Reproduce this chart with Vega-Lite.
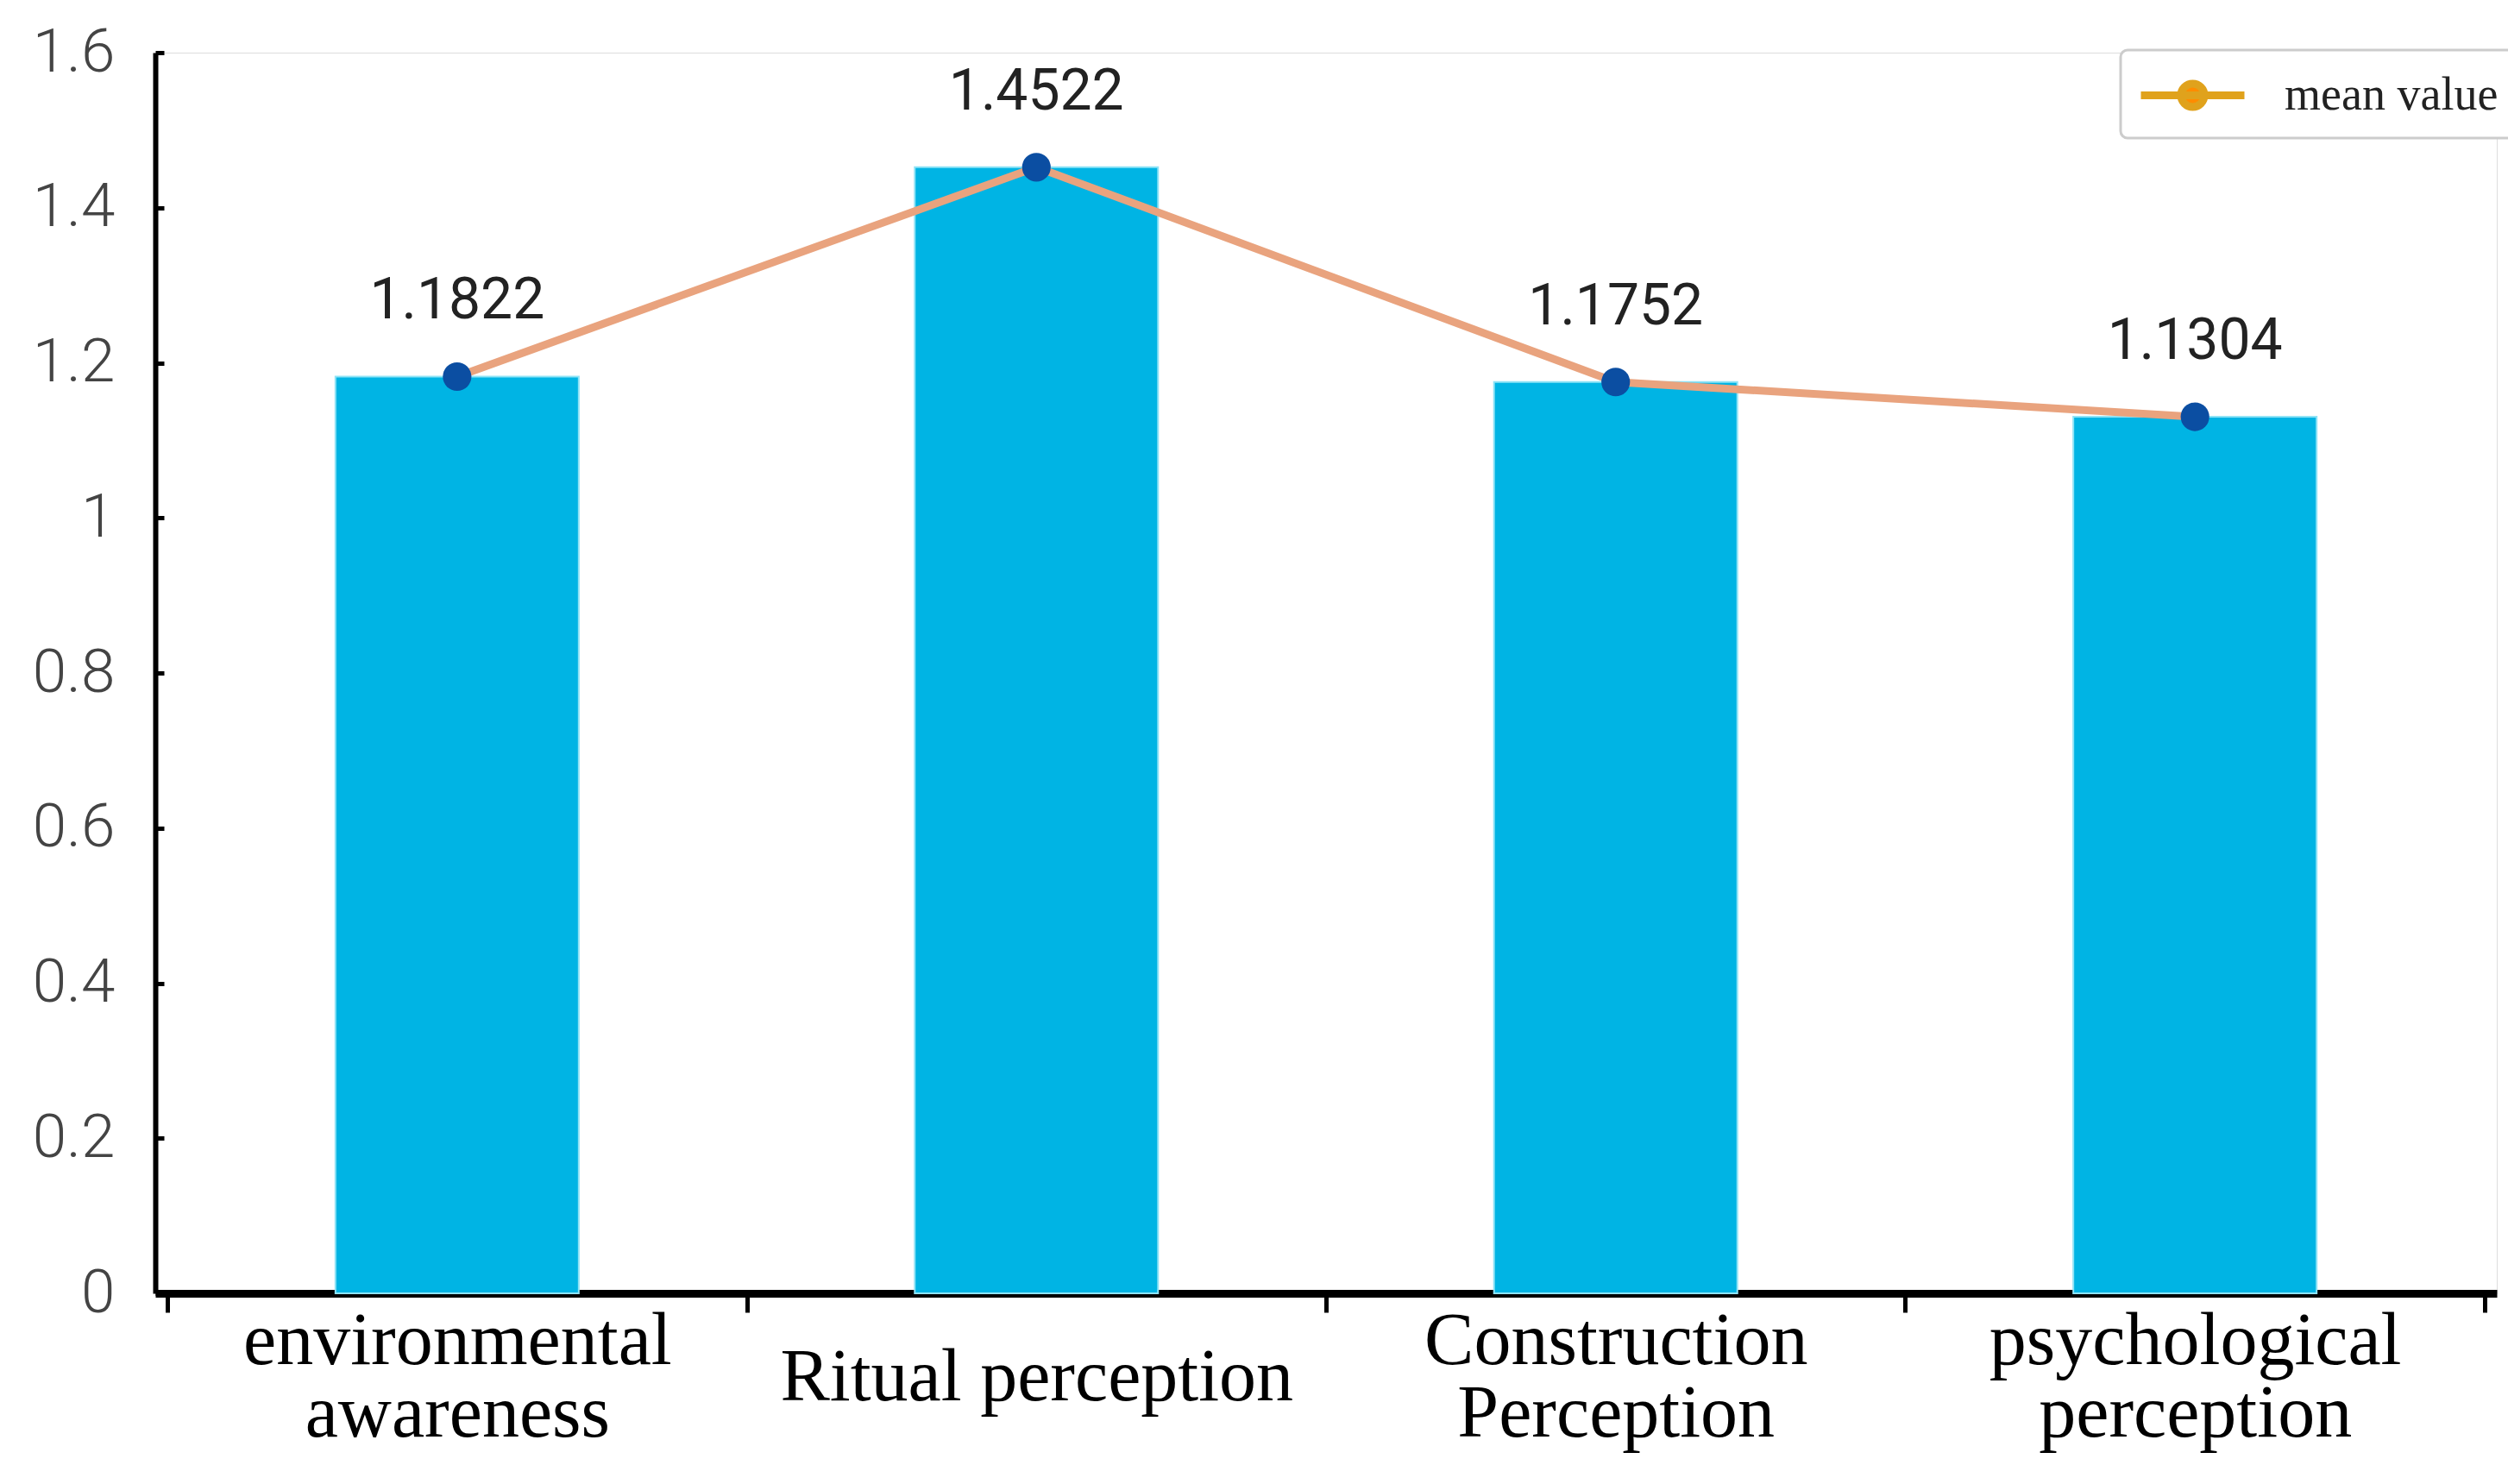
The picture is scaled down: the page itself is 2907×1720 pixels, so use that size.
{
  "$schema": "https://vega.github.io/schema/vega-lite/v6.json",
  "width": 2714,
  "height": 1438,
  "autosize": "none",
  "padding": {"left": 180, "top": 61, "right": 13, "bottom": 221},
  "background": "white",
  "data": {
    "values": [
      {"dimension": "environmental awareness", "mean": 1.1822},
      {"dimension": "Ritual perception", "mean": 1.4522},
      {"dimension": "Construction Perception", "mean": 1.1752},
      {"dimension": "psychological perception", "mean": 1.1304}
    ]
  },
  "encoding": {
    "x": {
      "field": "dimension",
      "type": "nominal",
      "sort": null,
      "scale": {"paddingInner": 0, "paddingOuter": 0.021},
      "axis": {
        "title": null,
        "labelAngle": 0,
        "labelExpr": "!isValid(datum.value) ? '' : datum.value == 'Ritual perception' ? ['\u200b', datum.value] : [split(datum.value, ' ')[0], '\u200b', split(datum.value, ' ')[1]]",
        "labelFont": "Liberation Serif",
        "labelFontSize": 86,
        "labelColor": "#000000",
        "labelBaseline": "middle",
        "labelLineHeight": 42,
        "labelPadding": 33,
        "labelLimit": 800,
        "domainColor": "#000000",
        "domainWidth": 9,
        "tickColor": "#000000",
        "tickWidth": 5,
        "tickSize": 22,
        "tickBand": "extent",
        "grid": false
      }
    },
    "y": {
      "field": "mean",
      "type": "quantitative",
      "scale": {"domain": [0, 1.6], "nice": false},
      "axis": {
        "title": null,
        "values": [0, 0.2, 0.4, 0.6, 0.8, 1, 1.2, 1.4, 1.6],
        "format": "~g",
        "labelFont": "Roboto",
        "labelFontWeight": 300,
        "labelFontSize": 71,
        "labelColor": "#444444",
        "labelPadding": 57,
        "domainColor": "#000000",
        "domainWidth": 6,
        "tickColor": "#000000",
        "tickWidth": 5,
        "tickSize": -10,
        "grid": false
      }
    }
  },
  "layer": [
    {
      "mark": {
        "type": "bar",
        "width": {"band": 0.42},
        "color": "#00B4E4",
        "stroke": "#8FE3F6",
        "strokeWidth": 2
      }
    },
    {
      "mark": {"type": "line", "strokeWidth": 9, "stroke": "#E9A37E"}
    },
    {
      "transform": [{"filter": "false"}],
      "mark": {"type": "line", "strokeWidth": 9},
      "encoding": {
        "color": {
          "datum": "mean value",
          "type": "nominal",
          "scale": {"range": ["#E0A21C"]},
          "legend": {
            "title": null,
            "orient": "none",
            "legendX": 2278,
            "legendY": -3,
            "padding": 18,
            "strokeColor": "#CCCCCC",
            "cornerRadius": 8,
            "fillColor": "#FFFFFF",
            "symbolType": "M-2,0H2M-0.45,0A0.45,0.45 0 1 0 0.45,0A0.45,0.45 0 1 0 -0.45,0",
            "symbolSize": 3600,
            "symbolStrokeWidth": 9,
            "symbolFillColor": "#FF8C00",
            "symbolOffset": 31,
            "labelOffset": 72,
            "labelLimit": 700,
            "labelFont": "Liberation Serif",
            "labelFontSize": 54,
            "labelColor": "#222222",
            "encode": {
              "legend": {
                "update": {"strokeWidth": {"value": 3}}
              },
              "symbols": {
                "update": {
                  "fill": {"value": "#FF8C00"},
                  "opacity": {"value": 1}
                }
              }
            }
          }
        }
      }
    },
    {
      "mark": {"type": "point", "filled": true, "size": 1100, "color": "#0B4EA2", "opacity": 1}
    },
    {
      "mark": {
        "type": "text",
        "dy": -87,
        "font": "Roboto",
        "fontSize": 66,
        "color": "#222222",
        "baseline": "middle"
      },
      "encoding": {"text": {"field": "mean", "type": "quantitative", "format": ".4f"}}
    }
  ]
}
